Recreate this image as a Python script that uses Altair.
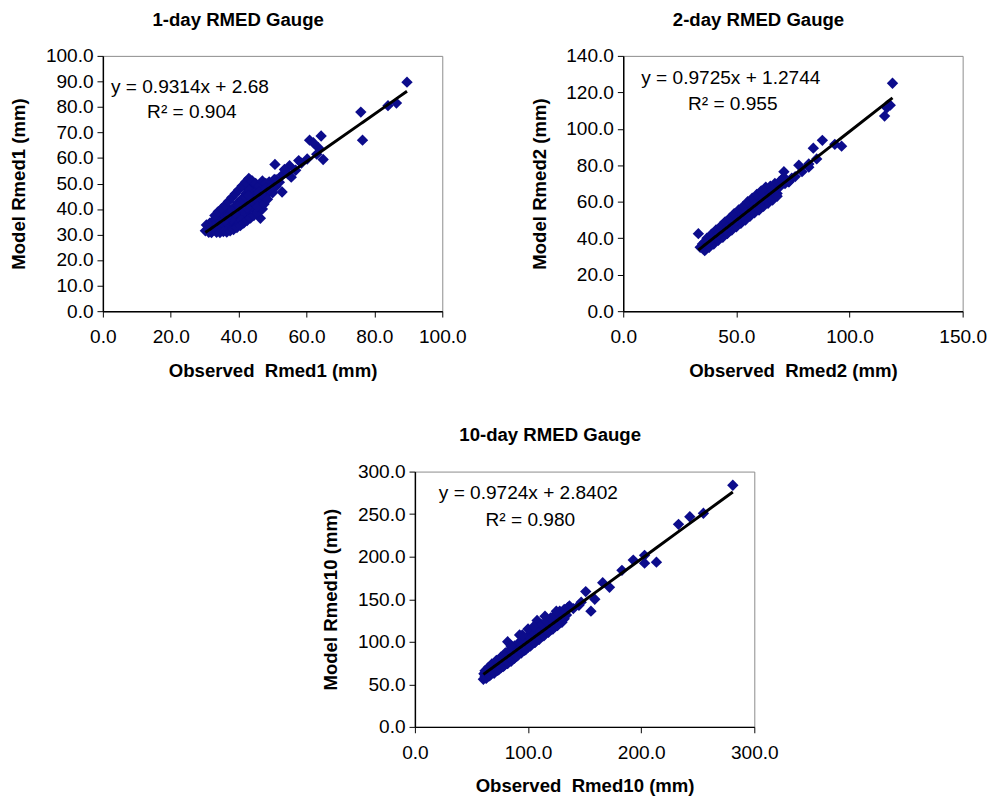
import altair as alt
import pandas as pd

# ---------------- data ----------------
obs1 = [30.2, 30.5, 31.0, 31.2, 31.5, 31.8, 32.0, 32.3, 32.5, 32.8, 33.0, 33.2, 33.5, 33.7, 34.0,
        34.2, 34.4, 34.6, 34.8, 35.0, 35.2, 35.4, 35.6, 35.8, 36.0, 36.2, 36.4, 36.6, 36.8, 37.0,
        37.2, 37.4, 37.6, 37.8, 38.0, 38.2, 38.4, 38.6, 38.8, 39.0, 39.2, 39.4, 39.6, 39.8, 40.0,
        40.2, 40.4, 40.6, 40.8, 41.0, 41.2, 41.4, 41.6, 41.8, 42.0, 42.2, 42.4, 42.6, 42.8, 43.0,
        43.2, 43.5, 43.8, 44.0, 44.2, 44.5, 44.8, 45.0, 45.3, 45.6, 46.0, 46.4, 46.8, 47.2, 47.6,
        48.0, 48.5, 49.0, 49.5, 50.0, 50.5, 51.0, 32.0, 33.5, 35.0, 36.5, 38.0, 39.5, 41.0, 42.5,
        50.7, 55.0, 57.7, 52.8, 52.8, 60.9, 64.3, 63.5, 64.9, 62.0, 63.0, 76.0, 76.5, 84.0, 86.5,
        89.6, 43.5, 42.6, 54.5, 56.8, 58.5, 60.2,
        34.5, 35.5, 36.5, 37.5, 38.5, 39.5, 40.5, 41.5, 42.5, 43.5, 44.5, 45.5, 47.0,
        33.0, 34.0, 35.0, 36.0, 37.0, 38.0, 39.0, 40.0, 41.0, 42.0, 43.0, 44.0, 45.0, 46.0, 47.0, 48.0,
        36.0, 37.0, 38.0, 39.0, 40.0, 41.0, 42.0, 43.0, 44.0, 45.0, 46.0, 47.0, 48.0, 49.0, 50.0,
        51.0, 52.0, 53.5, 55.5, 45.5, 47.5, 48.5]
mod1 = [31.5, 33.8, 32.2, 30.9, 34.5, 33.0, 31.6, 35.2, 32.8, 34.0, 31.8, 36.0, 33.2, 34.8, 32.5,
        37.0, 35.5, 31.9, 33.9, 36.4, 34.6, 38.2, 32.8, 35.8, 37.5, 33.5, 36.8, 34.9, 38.8, 36.0,
        32.6, 39.5, 35.4, 37.9, 34.2, 40.2, 36.6, 38.4, 33.8, 41.0, 37.2, 39.6, 35.6, 42.5, 38.0,
        40.6, 36.4, 43.4, 39.0, 41.5, 37.3, 44.6, 40.0, 42.2, 38.6, 46.0, 41.2, 43.5, 39.4, 48.0,
        42.0, 50.8, 44.8, 40.6, 47.2, 42.8, 49.5, 45.6, 41.5, 47.8, 44.2, 36.4, 46.5, 43.0, 48.6,
        45.2, 47.0, 50.6, 49.8, 46.4, 51.6, 48.8, 30.8, 30.9, 33.0, 32.0, 36.0, 38.5, 39.5, 40.5,
        57.5, 57.0, 59.0, 53.3, 46.7, 67.0, 68.6, 64.0, 59.4, 66.0, 61.5, 78.0, 67.0, 80.5, 81.5,
        89.7, 51.3, 48.0, 53.8, 55.2, 58.0, 59.6,
        30.8, 31.2, 31.0, 31.5, 32.0, 32.8, 33.5, 34.5, 35.5, 36.5, 37.5, 38.5, 40.0,
        37.5, 39.0, 40.2, 41.5, 43.0, 44.5, 46.0, 47.5, 49.0, 50.5, 52.0, 51.0, 50.0, 49.0, 51.0, 50.0,
        35.5, 37.5, 39.2, 38.2, 41.5, 43.8, 44.5, 45.2, 43.0, 44.0, 46.5, 45.5, 48.2, 47.6, 49.0,
        51.5, 50.5, 55.5, 52.5, 41.0, 42.0, 43.8]

obs2 = [34.0, 35.0, 35.5, 36.0, 36.8, 37.2, 37.8, 38.2, 38.8, 39.2, 39.6, 40.0, 40.4, 40.8, 41.2,
        41.6, 42.0, 42.4, 42.8, 43.2, 43.6, 44.0, 44.4, 44.8, 45.2, 45.6, 46.0, 46.4, 46.8, 47.2,
        47.6, 48.0, 48.4, 48.8, 49.2, 49.6, 50.0, 50.4, 50.8, 51.2, 51.6, 52.0, 52.4, 52.8, 53.2,
        53.6, 54.0, 54.4, 54.8, 55.2, 55.6, 56.0, 56.4, 56.8, 57.2, 57.6, 58.0, 58.4, 58.8, 59.2,
        59.6, 60.0, 60.6, 61.2, 61.8, 62.4, 63.0, 63.6, 64.2, 64.8, 65.4, 66.0, 67.0, 68.0, 69.0,
        70.0, 71.0, 71.5, 73.0, 74.5, 76.0, 79.0, 82.0, 84.0, 88.0, 85.5, 93.5, 96.5, 115.5, 118.0,
        116.5, 119.0, 33.2, 37.5, 45.0, 47.0, 49.0, 51.0, 53.0, 55.0, 57.0, 59.0,
        36.0, 38.0, 40.0, 42.0, 44.0, 46.0, 48.0, 50.0, 52.0, 54.0, 56.0, 58.0, 60.0, 62.0, 64.0,
        66.0, 68.0, 37.0, 39.0, 41.0, 43.0, 45.0, 47.0, 49.0, 51.0, 53.0, 55.0, 57.0, 59.0, 61.0,
        63.0, 65.0, 67.0, 69.0, 71.0, 66.0, 62.0, 58.0, 54.0, 50.0, 46.0, 42.0, 38.0, 77.6, 82.0,
        73.3]
mod2 = [35.0, 36.8, 34.6, 38.0, 35.8, 37.6, 39.4, 36.6, 38.8, 40.6, 37.4, 39.8, 42.0, 38.6, 41.0,
        43.2, 39.8, 42.4, 44.6, 40.8, 43.4, 45.8, 42.0, 44.6, 47.0, 43.2, 45.6, 48.2, 44.0, 46.8,
        49.4, 45.2, 47.8, 50.6, 46.4, 48.8, 51.8, 47.6, 50.0, 53.0, 48.6, 51.2, 54.0, 49.6, 52.4,
        55.2, 50.8, 53.4, 56.4, 52.0, 54.6, 57.4, 53.0, 55.8, 58.6, 54.2, 57.0, 60.0, 55.4, 58.2,
        61.2, 56.6, 59.4, 62.6, 58.0, 60.8, 64.0, 59.6, 62.2, 65.2, 61.4, 63.8, 66.6, 64.6, 68.0,
        72.0, 76.5, 70.0, 71.0, 73.0, 73.8, 76.5, 79.0, 89.4, 93.7, 83.5, 91.5, 90.5, 107.0, 113.0,
        111.5, 125.0, 42.5, 35.2, 45.5, 46.2, 48.0, 50.5, 52.2, 54.0, 56.2, 57.8,
        33.2, 35.0, 36.8, 38.8, 40.5, 42.5, 44.5, 46.3, 48.2, 50.0, 52.0, 54.0, 55.5, 57.5, 59.2,
        61.0, 63.0, 40.0, 42.2, 44.5, 46.5, 49.0, 51.0, 53.5, 55.5, 57.5, 60.0, 62.0, 64.0, 66.0,
        68.0, 68.5, 70.0, 71.0, 73.5, 66.5, 62.0, 58.5, 54.3, 49.5, 45.8, 42.2, 38.2, 80.0, 80.7,
        71.0]

obs3 = [60.5, 61.0, 62.0, 63.0, 64.0, 65.0, 66.0, 67.0, 68.0, 69.0, 70.0, 71.0, 72.0, 73.0, 74.0,
        75.0, 76.0, 77.0, 78.0, 79.0, 80.0, 81.0, 82.0, 83.0, 84.0, 85.0, 86.0, 87.0, 88.0, 89.0,
        82.0, 91.0, 92.0, 93.0, 94.0, 95.0, 96.0, 97.0, 98.0, 99.0, 100.0, 101.0, 102.0, 103.0, 104.0,
        105.0, 106.0, 107.0, 108.0, 109.0, 110.0, 111.0, 112.0, 113.0, 114.0, 115.0, 116.0, 117.0, 118.0, 119.0,
        120.0, 121.0, 122.0, 123.0, 124.0, 125.0, 126.0, 127.0, 128.0, 129.0, 130.0, 132.0, 134.0, 136.6, 92.5,
        147.0, 151.0, 155.6, 159.0, 166.0, 172.0, 183.0, 193.0, 203.0, 203.0, 213.5, 233.0, 243.0, 255.0, 281.0,
        140.0, 145.0, 65.5, 72.5, 79.5, 86.5, 93.5, 100.5, 107.5, 114.5, 121.5, 62.5, 90.0,
        63.0, 66.0, 70.0, 74.0, 78.0, 82.0, 86.0, 90.0, 94.0, 98.0, 102.0, 106.0, 110.0, 114.0, 118.0,
        122.0, 126.0, 130.0, 62.0, 65.0, 68.0, 72.0, 76.0, 80.0, 84.0, 88.0, 92.0, 96.0, 100.0, 104.0,
        108.0, 112.0, 116.0, 120.0, 124.0, 128.0, 132.0, 135.0, 85.0, 95.0, 100.0, 105.0, 115.0, 125.0]
mod3 = [56.0, 62.5, 59.5, 64.5, 58.8, 62.0, 66.5, 61.5, 65.5, 69.8, 64.0, 68.0, 72.5, 66.5, 71.0,
        75.0, 69.5, 73.5, 78.5, 72.0, 76.5, 81.0, 74.5, 79.5, 84.0, 77.0, 82.5, 87.5, 80.5, 85.5,
        100.0, 84.0, 88.5, 93.5, 87.0, 91.5, 96.0, 90.0, 94.5, 99.5, 93.5, 97.5, 102.5, 96.5, 100.5,
        106.0, 99.5, 104.0, 125.0, 103.0, 107.5, 112.0, 106.0, 110.5, 115.0, 109.0, 113.5, 118.0, 112.0, 116.5,
        121.0, 115.0, 119.5, 124.5, 118.0, 122.5, 127.0, 121.0, 136.0, 125.5, 130.0, 127.0, 131.5, 142.0, 108.0,
        146.6, 159.0, 136.0, 150.0, 169.5, 164.0, 184.0, 196.0, 201.6, 192.4, 193.6, 238.0, 247.0, 251.0, 284.0,
        139.0, 143.0, 66.0, 73.5, 80.0, 87.0, 94.5, 101.0, 108.0, 115.5, 122.0, 58.0, 96.0,
        57.0, 60.0, 63.0, 67.0, 71.0, 75.0, 79.0, 83.0, 87.0, 91.0, 95.0, 99.0, 103.0, 107.0, 111.0,
        115.0, 119.0, 123.0, 66.0, 70.0, 74.0, 78.0, 82.0, 87.0, 91.0, 95.0, 99.0, 103.0, 107.0, 112.0,
        116.0, 120.0, 124.0, 128.0, 132.0, 135.0, 138.0, 140.0, 95.0, 108.0, 115.0, 118.0, 130.0, 136.0]

titles = ["1-day RMED Gauge", "2-day RMED Gauge", "10-day RMED Gauge"]
x_titles = ["Observed\u00a0 Rmed1 (mm)", "Observed\u00a0 Rmed2 (mm)", "Observed\u00a0 Rmed10 (mm)"]
y_titles = ["Model Rmed1 (mm)", "Model Rmed2 (mm)", "Model Rmed10 (mm)"]
slopes = [0.9314, 0.9725, 0.9724]
intercepts = [2.68, 1.2744, 2.8402]
eq_texts = ["y = 0.9314x + 2.68", "y = 0.9725x + 1.2744", "y = 0.9724x + 2.8402"]
r2_texts = ["R\u00b2 = 0.904", "R\u00b2 = 0.955", "R\u00b2 = 0.980"]
x_ticks = [[0, 20, 40, 60, 80, 100], [0, 50, 100, 150], [0, 100, 200, 300]]
y_ticks = [list(range(0, 101, 10)), list(range(0, 141, 20)), list(range(0, 301, 50))]

FONT = "Liberation Sans"
NAVY = "#0c0c8c"
W, H = 347, 261


def axis(values, title, is_x):
    return alt.Axis(values=values, format=".1f", title=title, grid=False,
                    domainColor="black", tickColor="black", tickSize=6, domainWidth=1.5,
                    labelColor="black", labelFont=FONT, labelFontSize=19.5,
                    labelPadding=11 if is_x else 4, labelOverlap=False, labelFlush=False,
                    titleFont=FONT, titleFontSize=19, titleFontWeight="bold", titleColor="black",
                    titlePadding=16 if is_x else 17)


def panel(i, obs, mod, eq_pos):
    df = pd.DataFrame({"obs": obs, "mod": mod})
    xs = alt.Scale(domain=[x_ticks[i][0], x_ticks[i][-1]], nice=False)
    ys = alt.Scale(domain=[y_ticks[i][0], y_ticks[i][-1]], nice=False)
    xa = axis(x_ticks[i], x_titles[i], True)
    ya = axis(y_ticks[i], y_titles[i], False)
    base = alt.Chart(df)
    pts = base.mark_point(shape="diamond", filled=True, size=135, color=NAVY, opacity=1).encode(
        x=alt.X("obs:Q", scale=xs, axis=xa),
        y=alt.Y("mod:Q", scale=ys, axis=ya),
    )
    line = base.transform_calculate(
        fit=f"{slopes[i]} * datum.obs + {intercepts[i]}"
    ).mark_line(color="black", strokeWidth=3).encode(
        x=alt.X("obs:Q", scale=xs, axis=xa),
        y=alt.Y("fit:Q", scale=ys, axis=ya),
        order="obs:Q",
    )
    tdf = pd.DataFrame({"t": [eq_texts[i], r2_texts[i]], "row": [0, 1]})
    ex, ey1, ey2 = eq_pos
    eq1 = alt.Chart(tdf).transform_filter("datum.row == 0").mark_text(
        font=FONT, fontSize=19.5, color="black", align="center", baseline="middle"
    ).encode(x=alt.value(ex), y=alt.value(ey1), text="t:N")
    eq2 = alt.Chart(tdf).transform_filter("datum.row == 1").mark_text(
        font=FONT, fontSize=19.5, color="black", align="center", baseline="middle"
    ).encode(x=alt.value(ex + 2), y=alt.value(ey2), text="t:N")
    return alt.layer(pts, line, eq1, eq2).properties(
        width=W, height=H,
        title=alt.TitleParams(titles[i], font=FONT, fontSize=19, fontWeight="bold",
                              color="black", anchor="middle", frame="bounds", offset=17),
        view=alt.ViewBackground(stroke="#8a8a8a", strokeWidth=1),
    )


p1 = panel(0, obs1, mod1, (89, 32, 58))
p2 = panel(1, obs2, mod2, (110, 23, 49))
p3 = panel(2, obs3, mod3, (116, 22, 50))

spacer = alt.Chart(pd.DataFrame({"a": [0]})).mark_point(opacity=0).encode(
    x=alt.value(0), y=alt.value(0)
).properties(width=202, height=10, view=alt.ViewBackground(stroke="transparent"))

top = alt.hconcat(p1, p2, spacing=64)
bottom = alt.hconcat(spacer, p3, spacing=20)
chart = alt.vconcat(top, bottom, spacing=46).properties(
    padding={"left": 1, "top": -7, "right": 5, "bottom": 5}
).configure_view(stroke="#8a8a8a").configure_axis(labelOverlap=False).configure(background="white")

chart.save("out.html", embed_options={"renderer": "svg", "actions": False})
